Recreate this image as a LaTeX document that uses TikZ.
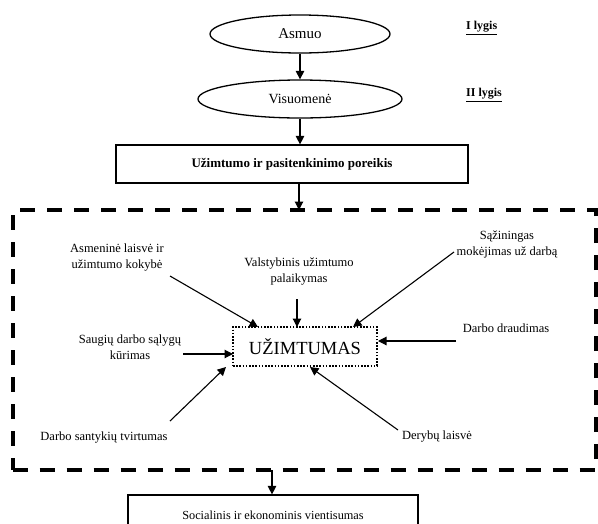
\documentclass[tikz,border=0pt]{standalone}
\usepackage{fontspec}
\setmainfont{Liberation Serif}
\usetikzlibrary{arrows.meta,shapes.geometric}
\begin{document}
\begin{tikzpicture}[x=1pt,y=-1pt,
  arr/.style={-{Triangle[length=8.5pt,width=8.5pt]}, line width=1.1pt},
  lbl/.style={font=\fontsize{12.5}{16}\selectfont, align=center, inner sep=0pt},
  ell/.style={ellipse, draw, line width=1.3pt, inner sep=0pt},
  topbox/.style={draw, line width=1.2pt, inner sep=0pt, font=\bfseries\fontsize{13}{15}\selectfont},
  lvl/.style={font=\bfseries\fontsize{12}{14}\selectfont, inner sep=0pt}
]
\useasboundingbox (0,0) rectangle (598,523);
\fill[white] (0,0) rectangle (598,523);

\node[ell, minimum width=180pt, minimum height=38pt, font=\fontsize{15}{17}\selectfont] (a) at (300,34) {Asmuo};
\node[ell, minimum width=204pt, minimum height=38pt, font=\fontsize{14}{16}\selectfont] (v) at (300,99) {Visuomenė};
\node[lvl, anchor=west] (l1) at (466,28) {\underline{I lygis}};
\node[lvl, anchor=west] (l2) at (466,95) {\underline{II lygis}};

\node[topbox, minimum width=352pt, minimum height=38pt] (p) at (292,164) {Užimtumo ir pasitenkinimo poreikis};

\node[draw, line width=4pt, dash pattern=on 15pt off 12pt, minimum width=583pt, minimum height=260pt, inner sep=0pt] (d) at (304,340) {};

\node[draw, line width=2pt, dash pattern=on 1.6pt off 1.6pt, minimum width=144pt, minimum height=39pt, inner sep=0pt, font=\fontsize{18.5}{20}\selectfont] (u) at (305,346.5) {UŽIMTUMAS};

\node[draw, line width=1.2pt, inner sep=0pt, font=\fontsize{12.3}{15}\selectfont, minimum width=290pt, minimum height=40pt] (s) at (273,515) {Socialinis ir ekonominis vientisumas};

% labels
\node[lbl] (t1) at (117,258) {Asmeninė laisvė ir\\užimtumo kokybė};
\node[lbl] (t2) at (299,271) {Valstybinis užimtumo\\palaikymas};
\node[lbl] (t3) at (507,244) {Sąžiningas\\mokėjimas už darbą};
\node[lbl] (t4) at (506,328) {Darbo draudimas};
\node[lbl] (t5) at (130,347) {Saugių darbo sąlygų\\kūrimas};
\node[lbl] (t6) at (104,438) {Darbo santykių tvirtumas};
\node[lbl] (t7) at (437,437) {Derybų laisvė};

\coordinate (c1s) at (170,276); \coordinate (c1e) at (258,327);
\coordinate (c2s) at (297,299); \coordinate (c2e) at (297,327);
\coordinate (c3s) at (454,252); \coordinate (c3e) at (353,327);
\coordinate (c4s) at (456,341); \coordinate (c4e) at (378,341);
\coordinate (c5s) at (183,354); \coordinate (c5e) at (233,354);
\coordinate (c6s) at (170,421); \coordinate (c6e) at (226,367);
\coordinate (c7s) at (398,430); \coordinate (c7e) at (310,367);

\draw[arr] (c1s) -- (c1e);
\draw[arr] (c2s) -- (c2e);
\draw[arr] (c3s) -- (c3e);
\draw[arr] (c4s) -- (c4e);
\draw[arr] (c5s) -- (c5e);
\draw[arr] (c6s) -- (c6e);
\draw[arr] (c7s) -- (c7e);

\draw[arr] (a) -- (v);
\draw[arr] (v.south) -- (v.south |- p.north);
\draw[arr] (p.south -| 299,0) -- (299,210);
\draw[arr] (272,470) -- (s.north -| 272,0);
\end{tikzpicture}
\end{document}
